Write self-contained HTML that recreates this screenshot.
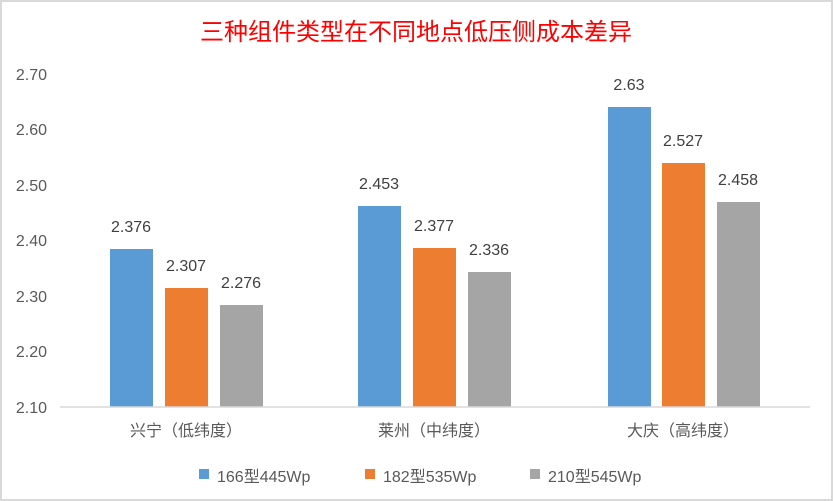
<!DOCTYPE html>
<html><head><meta charset="utf-8"><style>
html,body{margin:0;padding:0;background:#fff}
svg{display:block}
text{font-family:"Liberation Sans","Noto Sans CJK SC",sans-serif}
</style></head><body>
<svg width="833" height="501" viewBox="0 0 833 501">
<rect x="1" y="1" width="831" height="499" fill="#fff" stroke="#d9d9d9" stroke-width="2"/>
<text x="416" y="40" text-anchor="middle" font-size="24" fill="#ff0000">三种组件类型在不同地点低压侧成本差异</text>
<g font-size="16" fill="#595959" text-anchor="end">
<text x="47" y="80">2.70</text>
<text x="47" y="135">2.60</text>
<text x="47" y="191">2.50</text>
<text x="47" y="246">2.40</text>
<text x="47" y="302">2.30</text>
<text x="47" y="357">2.20</text>
<text x="47" y="413">2.10</text>
</g>
<g fill="#5b9bd5">
<rect x="110" y="249" width="43" height="158"/>
<rect x="358" y="206" width="43" height="201"/>
<rect x="608" y="107" width="43" height="300"/>
</g>
<g fill="#ed7d31">
<rect x="165" y="288" width="43" height="119"/>
<rect x="413" y="248" width="43" height="159"/>
<rect x="662" y="163" width="43" height="244"/>
</g>
<g fill="#a5a5a5">
<rect x="220" y="305" width="43" height="102"/>
<rect x="468" y="272" width="43" height="135"/>
<rect x="717" y="202" width="43" height="205"/>
</g>
<line x1="60" y1="407" x2="810" y2="407" stroke="#d9d9d9" stroke-width="1.5"/>
<g font-size="16" fill="#404040" text-anchor="middle">
<text x="131" y="232">2.376</text>
<text x="186" y="271">2.307</text>
<text x="241" y="288">2.276</text>
<text x="379" y="189">2.453</text>
<text x="434" y="231">2.377</text>
<text x="489" y="255">2.336</text>
<text x="629" y="90">2.63</text>
<text x="683" y="146">2.527</text>
<text x="738" y="185">2.458</text>
</g>
<g font-size="16" fill="#595959" text-anchor="middle">
<text x="186" y="436">兴宁（低纬度）</text>
<text x="434" y="436">莱州（中纬度）</text>
<text x="683" y="436">大庆（高纬度）</text>
</g>
<g font-size="16" fill="#595959">
<rect x="199" y="469" width="10" height="10" fill="#5b9bd5"/>
<text x="217" y="482">166型445Wp</text>
<rect x="365" y="469" width="10" height="10" fill="#ed7d31"/>
<text x="383" y="482">182型535Wp</text>
<rect x="530" y="469" width="10" height="10" fill="#a5a5a5"/>
<text x="548" y="482">210型545Wp</text>
</g>
</svg>
</body></html>
